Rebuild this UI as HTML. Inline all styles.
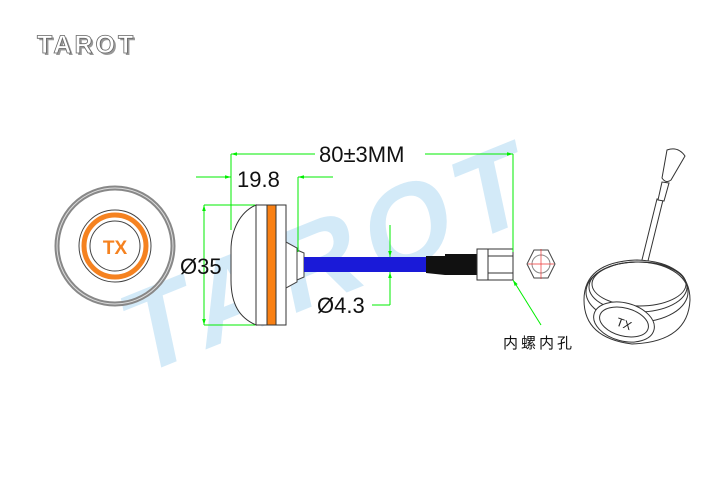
<!DOCTYPE html>
<html><head><style>body{margin:0;background:#fff}svg{display:block}</style></head><body>
<svg width="720" height="480" viewBox="0 0 720 480" xmlns="http://www.w3.org/2000/svg" font-family="Liberation Sans, DejaVu Sans, sans-serif">
<defs>
<marker id="a" viewBox="0 0 10 10" refX="10" refY="5" markerWidth="10" markerHeight="6" orient="auto-start-reverse"><path d="M0,2 L10,5 L0,8z" fill="#00ee00"/></marker>
</defs>
<g transform="rotate(-22 370 240)" font-size="115" font-weight="bold" fill="#d3eaf8">
<text x="370" y="280" text-anchor="middle" letter-spacing="10" transform="skewX(-10)" >TAROT</text>
</g>
<text x="37" y="53" font-size="25" font-weight="900" fill="#999" letter-spacing="3" transform="translate(2,2)">TAROT</text>
<text x="37" y="53" font-size="25" font-weight="900" fill="#fff" stroke="#666" stroke-width="0.8" letter-spacing="3">TAROT</text>
<g fill="none">
<circle cx="115" cy="246" r="58" stroke="#888" stroke-width="5"/>
<circle cx="115" cy="246" r="58" stroke="#ddd" stroke-width="1"/>
<circle cx="115" cy="246" r="36" stroke="#444"/>
<circle cx="115" cy="246" r="31" stroke="#f58220" stroke-width="5"/>
<circle cx="115" cy="246" r="25" stroke="#444"/>
</g>
<text x="115" y="254" text-anchor="middle" font-size="19" font-weight="bold" fill="#f58220">TX</text>
<path d="M256,205 C240,212 231,230 231,250 L231,280 C231,305 240,318 256,325 Z" fill="#fff" stroke="#333"/>
<rect x="256" y="205" width="30" height="120" fill="#fff" stroke="#333"/>
<rect x="267" y="205" width="9" height="120" fill="#f98014" stroke="#333"/>
<path d="M286,242 L297,248 L297,282 L286,288 Z" fill="#fff" stroke="#444"/>
<path d="M297,250 L304,253 L304,277 L297,280 Z" fill="#fff" stroke="#444"/>
<rect x="304" y="257" width="125" height="15" fill="#1a1ad8"/>
<path d="M426,256 L445,256 L445,254 L477,254 L477,275 L445,275 L426,273 Z" fill="#111"/>
<rect x="477" y="249" width="11" height="31" fill="#fff" stroke="#333"/>
<rect x="488" y="249" width="25" height="31" fill="#fff" stroke="#333"/>
<line x1="488" y1="256" x2="513" y2="256" stroke="#333"/><line x1="488" y1="273" x2="513" y2="273" stroke="#333"/>
<polygon points="534,250 548,250 555,264 548,278 534,278 527,264" fill="#fff" stroke="#444"/>
<circle cx="541" cy="264" r="9" fill="none" stroke="#888"/>
<line x1="528" y1="264" x2="554" y2="264" stroke="#e33" stroke-width=".7"/><line x1="541" y1="249" x2="541" y2="279" stroke="#e33" stroke-width=".7"/>
<g stroke="#00ee00" stroke-width="1" fill="none">
<line x1="231" y1="154" x2="231" y2="230"/><line x1="513" y1="154" x2="513" y2="252"/>
<line x1="231" y1="154" x2="315" y2="154" marker-start="url(#a)"/>
<line x1="425" y1="154" x2="513" y2="154" marker-end="url(#a)"/>
<line x1="196" y1="177" x2="231" y2="177" marker-end="url(#a)"/>
<line x1="333" y1="177" x2="298" y2="177" marker-end="url(#a)"/>
<line x1="298" y1="177" x2="298" y2="252"/>
<line x1="204" y1="205" x2="255" y2="205"/><line x1="204" y1="325" x2="255" y2="325"/>
<line x1="204" y1="205" x2="204" y2="325" marker-start="url(#a)" marker-end="url(#a)"/>
<line x1="390" y1="225" x2="390" y2="257" marker-end="url(#a)"/>
<line x1="390" y1="305" x2="390" y2="272" marker-end="url(#a)"/>
<line x1="390" y1="305" x2="372" y2="305"/>
<line x1="541" y1="325" x2="513" y2="280" marker-end="url(#a)"/>
</g>
<g font-size="22" fill="#111">
<text x="319" y="162">80±3MM</text>
<text x="237" y="187">19.8</text>
<text x="180" y="274">Ø35</text>
<text x="317" y="313">Ø4.3</text>
</g>
<text x="503" y="348" font-size="15" fill="#111" letter-spacing="3" font-family="Liberation Sans, Noto Sans CJK SC, sans-serif">内螺内孔</text>
<g fill="#fff" stroke="#333" stroke-width="1">
<path d="M657,199 L640,268 L646,269 L663,200 Z"/>
<path d="M662,182 L658,200 L664,201 L669,183 Z"/>
<path d="M667,150 L662,178 Q666,184 671,180 L685,156 Q678,146 667,150 Z"/>
<path d="M584,300 Q584,262 637,260 Q690,262 690,300 Q688,342 632,344 Q584,338 584,300 Z"/>
<ellipse cx="637" cy="292" rx="51" ry="30" fill="none"/>
<ellipse cx="638" cy="287" rx="49" ry="25" fill="none"/>
<ellipse cx="639" cy="284" rx="47" ry="22" fill="none"/>
<g transform="rotate(15 624 322)">
<ellipse cx="624" cy="322" rx="31" ry="19"/>
<ellipse cx="624" cy="322" rx="25" ry="14"/>
</g>
</g>
<text x="624" y="328" text-anchor="middle" font-size="12" fill="#222" transform="rotate(20 624 324)">TX</text>
</svg>
</body></html>
